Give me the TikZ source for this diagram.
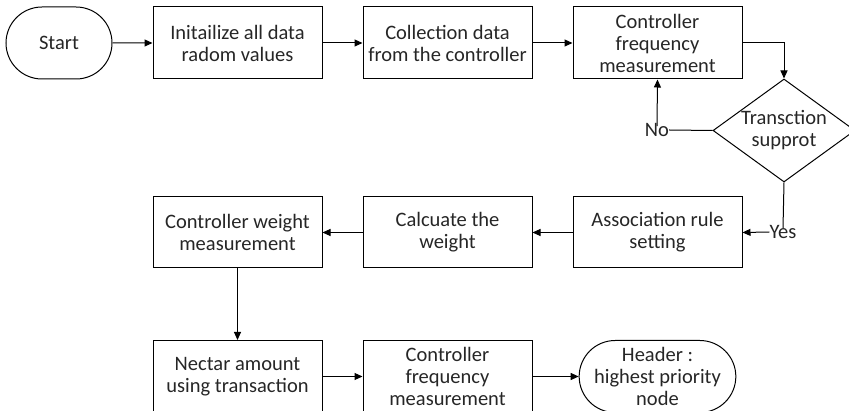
\documentclass[tikz,border=0pt]{standalone}
\usepackage{fontspec}
\setmainfont{Carlito}
\usetikzlibrary{shapes.geometric,shapes.misc,arrows.meta}
\begin{document}
\begin{tikzpicture}[x=1pt,y=-1pt,
  every node/.style={font=\fontsize{20.5}{22}\selectfont, text=black!85, align=center, inner sep=0pt},
  box/.style={draw, line width=1pt, minimum width=169pt, minimum height=72pt},
  term/.style={draw, line width=1pt, rounded rectangle, minimum height=72pt},
  dec/.style={draw, line width=1pt, diamond, minimum width=142pt, minimum height=103pt, aspect=1.38},
  conn/.style={line width=1pt},
  arr/.style={conn, -{Triangle[length=8pt,width=7pt]}}]
\useasboundingbox (0,0) rectangle (849,411);
\node[term, minimum width=106pt] (start) at (59,43) {Start};
\node[box] (init) at (237.5,43) {Initailize all data\\radom values};
\node[box] (coll) at (447.5,43) {Collection data\\from the controller};
\node[box] (cfm1) at (657.5,43) {Controller\\frequency\\measurement};
\node[dec] (dia) at (784,130.5) {Transction\\supprot};
\node (no) at (657,130) {No};
\node (yes) at (783,232) {Yes};
\node[box, minimum height=71pt] (ars) at (657.5,232.5) {Association rule\\setting};
\node[box, minimum height=71pt] (calc) at (447.5,232.5) {Calcuate the\\weight};
\node[box, minimum height=71pt] (cwm) at (237.5,232.5) {Controller weight\\measurement};
\node[box] (nec) at (237.5,376.5) {Nectar amount\\using transaction};
\node[box] (cfm2) at (447.5,376.5) {Controller\\frequency\\measurement};
\node[term, minimum width=141pt] (head) at (657.5,376.5) {Header :\\highest priority\\node};
\draw[arr] (start) -- (init);
\draw[arr] (init) -- (coll);
\draw[arr] (coll) -- (cfm1);
\draw[arr] (cfm1.east) -| (dia.north);
\draw[conn] (dia.west) -- (no.east);
\draw[arr] ([yshift=-3pt]no.north) -- (cfm1.south);
\draw[conn] (dia.south) -- ([yshift=-3pt]yes.north);
\draw[arr] (yes.west) -- (ars.east);
\draw[arr] (ars) -- (calc);
\draw[arr] (calc) -- (cwm);
\draw[arr] (cwm.south) -- (nec.north);
\draw[arr] (nec) -- (cfm2);
\draw[arr] (cfm2) -- (head);
\end{tikzpicture}
\end{document}
